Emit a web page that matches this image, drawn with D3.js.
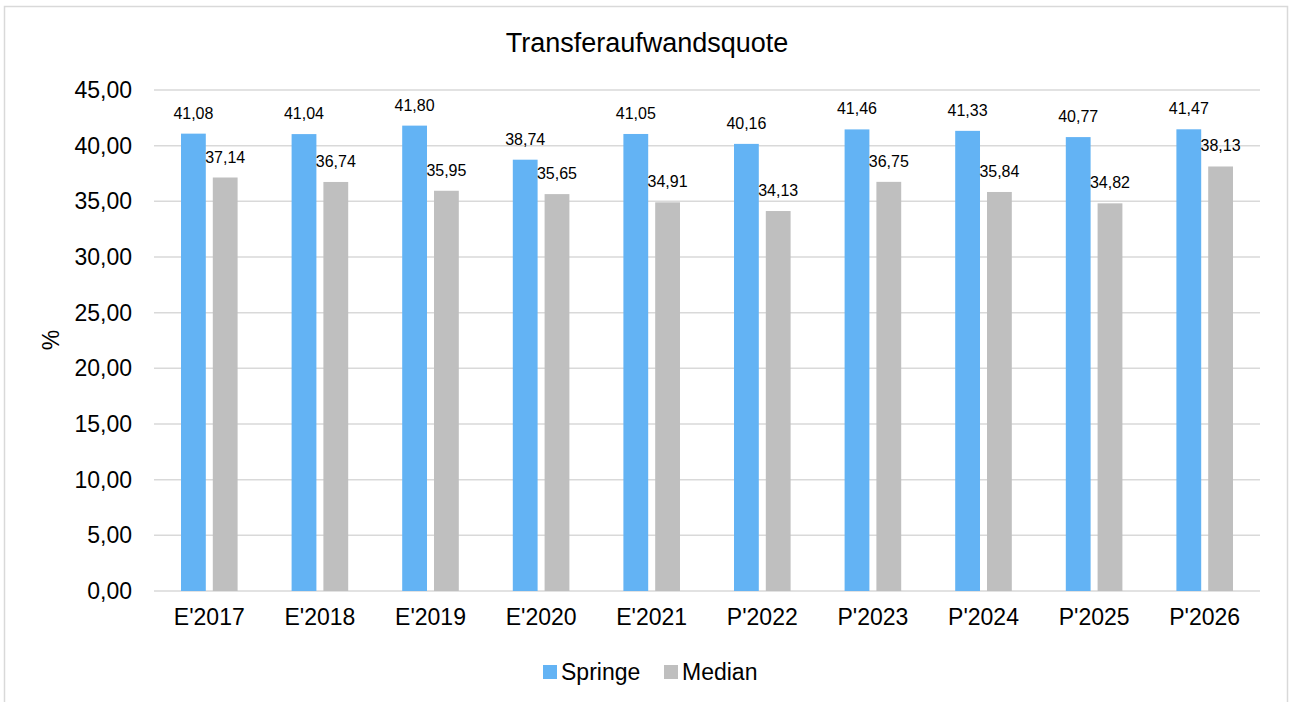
<!DOCTYPE html>
<html><head><meta charset="utf-8">
<script src="https://cdn.jsdelivr.net/npm/d3@7"></script>
<style>body{margin:0;background:#fff;} svg{display:block;font-family:"Liberation Sans",Arial,sans-serif;}</style>
</head><body>
<svg id="chart" width="1290" height="702"></svg>
<script>
const categories = ["E'2017","E'2018","E'2019","E'2020","E'2021","P'2022","P'2023","P'2024","P'2025","P'2026"];
const springe = [41.08,41.04,41.80,38.74,41.05,40.16,41.46,41.33,40.77,41.47];
const median = [37.14,36.74,35.95,35.65,34.91,34.13,36.75,35.84,34.82,38.13];
const seriesNames = ["Springe","Median"];
const seriesColors = ["#63B3F4","#BFBFBF"];
const yTicks = [0,5,10,15,20,25,30,35,40,45];
const title = "Transferaufwandsquote";
const yTitle = "%";

(function(){
const svg = d3.select("#chart");
const fmt = v => d3.format(".2f")(v).replace(".", ",");
const pLeft = 154, pRight = 1260, pTop = 90, pBottom = 591;

svg.append("rect").attr("x",4.5).attr("y",6.5).attr("width",1283).attr("height",700)
  .attr("fill","#fff").attr("stroke","#d9d9d9").attr("stroke-width",1.5);

const x = d3.scaleBand().domain(categories).range([pLeft,pRight]).paddingInner(0).paddingOuter(0);
const inner = d3.scaleBand().domain(seriesNames).range([0,56.6]).paddingInner(0.22);
const y = d3.scaleLinear().domain([0,45]).range([pBottom,pTop]);

svg.append("g").selectAll("line").data(yTicks).join("line")
  .attr("x1",pLeft).attr("x2",pRight)
  .attr("y1",d=>y(d)).attr("y2",d=>y(d))
  .attr("stroke","#d9d9d9").attr("stroke-width",1.5);

const yAxis = d3.axisLeft(y).tickValues(yTicks).tickFormat(fmt).tickSize(0).tickPadding(0);
const gy = svg.append("g").attr("transform",`translate(132,0)`).call(yAxis);
gy.select(".domain").remove();
gy.selectAll("text").attr("font-size",23).attr("fill","#000").attr("font-family","Liberation Sans, Arial, sans-serif");

const xAxis = d3.axisBottom(x).tickSize(0).tickPadding(0);
const gx = svg.append("g").attr("transform",`translate(0,${pBottom+18})`).call(xAxis);
gx.select(".domain").remove();
gx.selectAll("text").attr("font-size",23).attr("fill","#000").attr("font-family","Liberation Sans, Arial, sans-serif");

const data = [springe, median];
data.forEach((vals, si) => {
  const g = svg.append("g");
  const off = d => x(d) + x.bandwidth()/2 - 28.3 + inner(seriesNames[si]);
  g.selectAll("rect").data(categories).join("rect")
    .attr("x", off)
    .attr("y", (d,i)=>y(vals[i]))
    .attr("width", inner.bandwidth())
    .attr("height", (d,i)=>y(0)-y(vals[i]))
    .attr("fill", seriesColors[si]);
  g.selectAll("text").data(categories).join("text")
    .attr("x", d=>off(d)+inner.bandwidth()/2)
    .attr("y", (d,i)=>y(vals[i])-15)
    .attr("text-anchor","middle")
    .attr("font-size",16).attr("fill","#000")
    .text((d,i)=>fmt(vals[i]));
});

svg.append("text").attr("x",647).attr("y",52).attr("text-anchor","middle")
  .attr("font-size",27).attr("fill","#000").text(title);

svg.append("text").attr("transform","translate(59,340) rotate(-90)").attr("text-anchor","middle")
  .attr("font-size",23).attr("fill","#000").text(yTitle);

const legendX = [543, 664];
seriesNames.forEach((s,i)=>{
  svg.append("rect").attr("x",legendX[i]).attr("y",665).attr("width",14).attr("height",14).attr("fill",seriesColors[i]);
  svg.append("text").attr("x",legendX[i]+18).attr("y",680).attr("font-size",23).attr("fill","#000").text(s);
});
})();
</script>
</body></html>
